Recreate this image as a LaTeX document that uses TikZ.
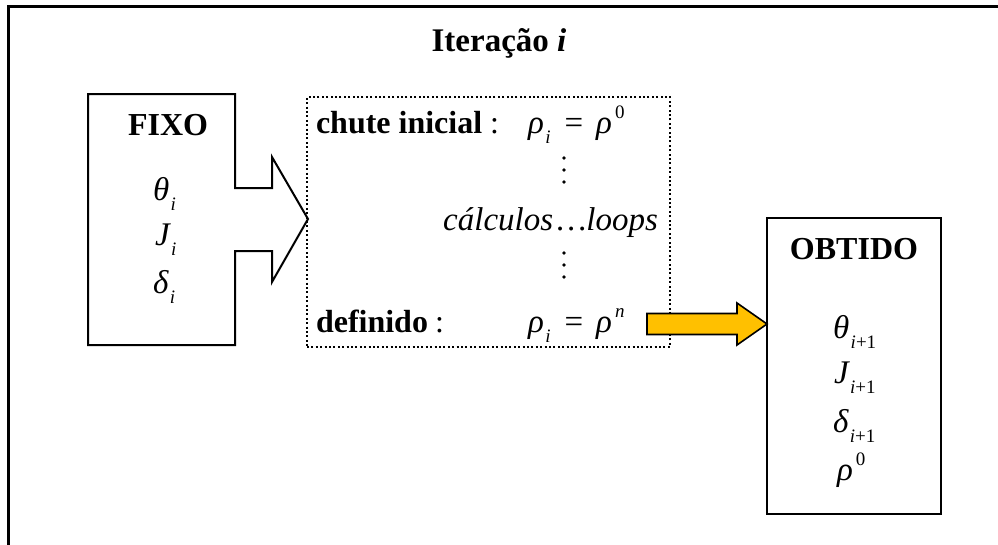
\documentclass[tikz,border=0pt]{standalone}
\usepackage{fontspec}
\setmainfont{Liberation Serif}
\usetikzlibrary{calc}
\definecolor{arrowyellow}{HTML}{FFC000}
\newcommand\fsz[1]{\fontsize{#1}{#1}\selectfont}
\newcommand\subs[1]{\hspace{1.5pt}\raisebox{-0.32em}{\fsz{19}\itshape #1}}
\newcommand\sups[1]{\hspace{3pt}\raisebox{0.45em}{\fsz{19}#1}}
\begin{document}
\begin{tikzpicture}[x=1pt,y=-1pt,
  every node/.style={inner sep=0pt,outer sep=0pt},
  mtxt/.style={font=\fsz{33}\itshape},
  btxt/.style={font=\fsz{32}\bfseries},
  boxline/.style={draw=black,line width=2pt,line join=miter},
  dotbox/.style={draw=black,line width=2pt,dash pattern=on 2pt off 2.4pt},
  vdot/.style={circle,fill=black,minimum size=3.6pt},
  yarrow/.style={draw=black,fill=arrowyellow,line width=1.6pt,line join=miter}]
\useasboundingbox (0,0) rectangle (998,544);
% outer frame
\draw[line width=3pt] (8,548) -- (8,6) -- (1002,6);
% title
\node[font=\fsz{33}\bfseries, anchor=base] (title) at (499,51) {Iteração \textit{i}};
% FIXO block with arrow notch
\coordinate (fixotip) at (308,219);
\draw[boxline] (88,94) -- (235,94) -- (235,188) -- (272,188) -- (272,157) -- (fixotip)
  -- (272,282) -- (272,251) -- (235,251) -- (235,345) -- (88,345) -- cycle;
\node[btxt, anchor=base] (fixo) at (168,135) {FIXO};
\node[mtxt, anchor=base west] (th) at (153,200) {θ\subs{i}};
\node[mtxt, anchor=base west] (jj) at (155,245) {J\subs{i}};
\node[mtxt, anchor=base west] (de) at (153,293) {δ\subs{i}};
% dotted calculation box
\node[dotbox, minimum width=363pt, minimum height=250pt, anchor=north west] (calc) at (307,97) {};
\node[btxt, anchor=base west] (chute) at (316,133) {chute inicial};
\node[font=\fsz{32}, anchor=base west] (col1) at (490,133) {:};
\node[mtxt, anchor=base west] (eq1) at (528,133) {ρ\subs{i}\hspace{14pt}{\upshape =}\hspace{13pt}ρ\sups{\upshape 0}};
\node[vdot] (d1) at (564,158) {};
\node[vdot] (d2) at (564,170) {};
\node[vdot] (d3) at (564,182) {};
\node[mtxt, anchor=base east] (loops) at (658,230) {cálculos\hspace{4pt}\ldots loops};
\node[vdot] (d4) at (564,253) {};
\node[vdot] (d5) at (564,265) {};
\node[vdot] (d6) at (564,277) {};
\node[btxt, anchor=base west] (def) at (316,332) {definido};
\node[font=\fsz{32}, anchor=base west] (col2) at (435,332) {:};
\node[mtxt, anchor=base west] (eq2) at (528,332) {ρ\subs{i}\hspace{14pt}{\upshape =}\hspace{13pt}ρ\sups{n}};
% OBTIDO box
\node[boxline, minimum width=174pt, minimum height=296pt, anchor=north west] (obt) at (767,218) {};
\node[btxt, anchor=base] (obtido) at (854,259) {OBTIDO};
\node[mtxt, anchor=base west] (th2) at (833,338) {θ\subs{i{\upshape +1}}};
\node[mtxt, anchor=base west] (jj2) at (834,383) {J\subs{i{\upshape +1}}};
\node[mtxt, anchor=base west] (de2) at (833,432) {δ\subs{i{\upshape +1}}};
\node[mtxt, anchor=base west] (rho) at (837,480) {ρ\sups{\upshape 0}};
% yellow block arrow
\coordinate (ytip) at (obt.west |- 0,324);
\draw[yarrow] ($(ytip)+(-120,-10.5)$) -- ($(ytip)+(-30,-10.5)$) -- ($(ytip)+(-30,-21)$) -- (ytip)
  -- ($(ytip)+(-30,21)$) -- ($(ytip)+(-30,10.5)$) -- ($(ytip)+(-120,10.5)$) -- cycle;
\end{tikzpicture}
\end{document}
